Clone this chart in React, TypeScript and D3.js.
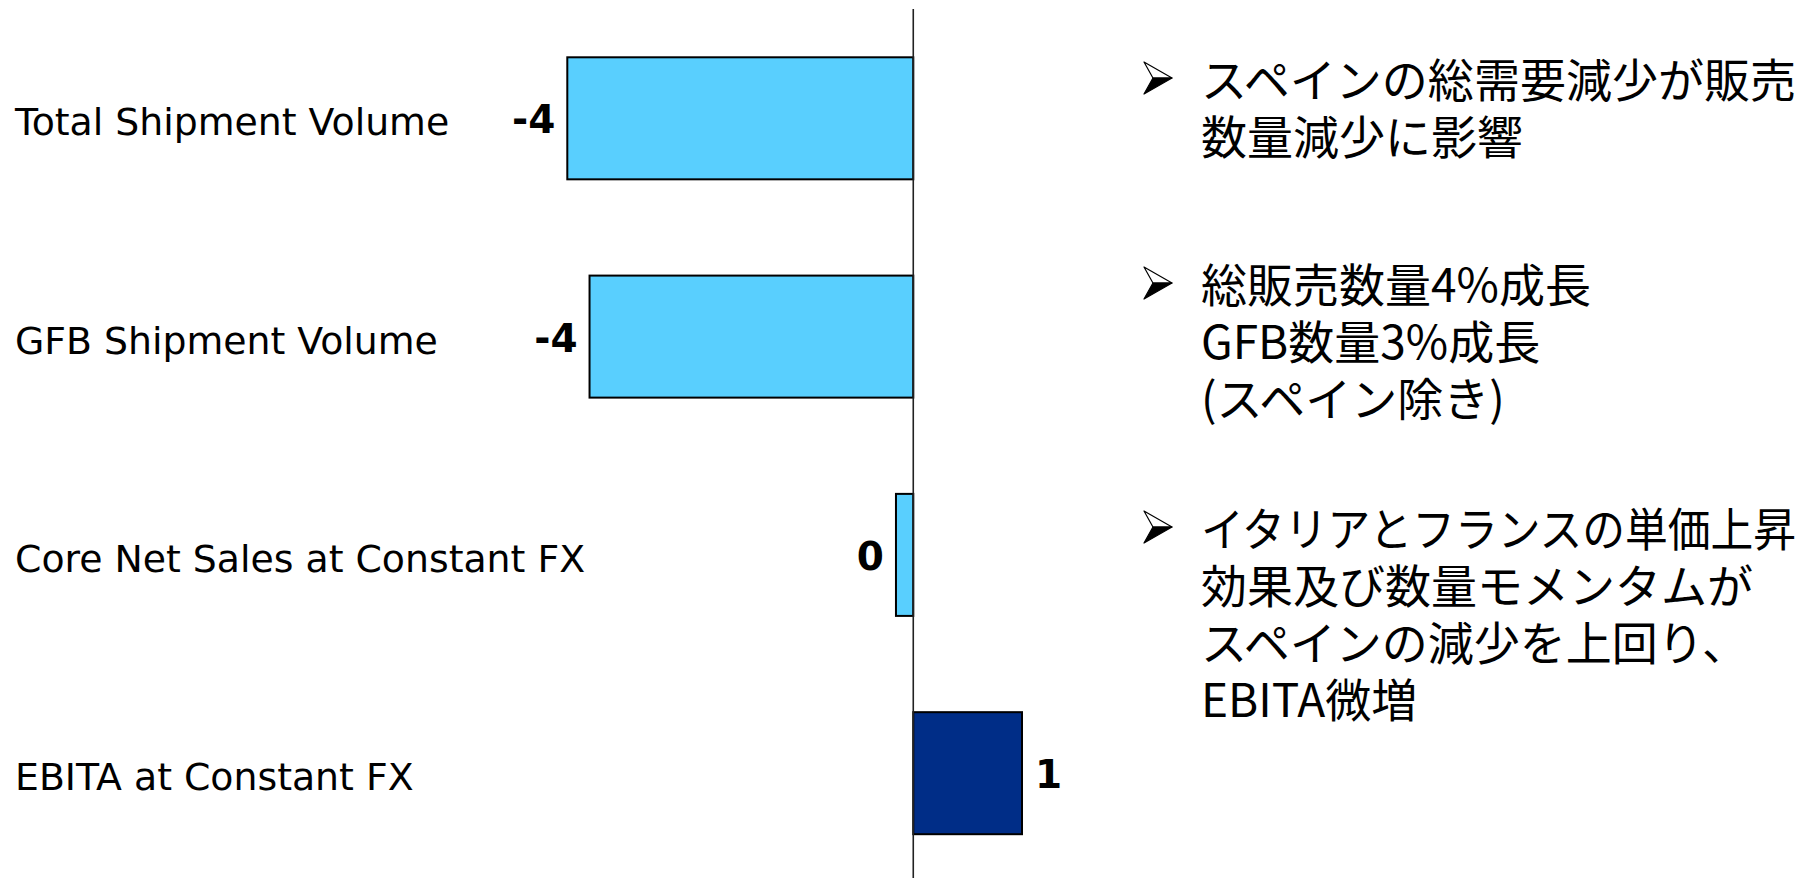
import React from "react";
import * as d3 from "d3";

const categories = [
  "Total Shipment Volume",
  "GFB Shipment Volume",
  "Core Net Sales at Constant FX",
  "EBITA at Constant FX",
];
const values = [-4.2, -3.93, -0.21, 1.32];
const valueLabels = ["-4", "-4", "0", "1"];
const barColors = ["#59CFFE", "#59CFFE", "#59CFFE", "#002D87"];

const bulletBlocks = [
  ["スペインの総需要減少が販売", "数量減少に影響"],
  ["総販売数量4%成長", "GFB数量3%成長", "(スペイン除き)"],
  ["イタリアとフランスの単価上昇", "効果及び数量モメンタムが", "スペインの減少を上回り、", "EBITA微増"],
];
const blockBaselines = [97, 302, 546];

const W = 1810;
const H = 878;
const CJK_SIZE = 46;
const TEXT_X = 1201;
const MAX_TEXT_W = 595;

export default function App() {
  const x = d3.scaleLinear().domain([-4.2, 1.32]).range([567.3, 1022]);
  const y = d3
    .scaleBand<string>()
    .domain(categories)
    .range([57.3, 834.2])
    .paddingInner(0.441)
    .paddingOuter(0);
  const x0 = x(0);
  const latin = "'DejaVu Sans', Verdana, sans-serif";
  const cjk = "'Noto Sans CJK JP', 'Noto Sans', sans-serif";
  const lineGap = 57;

  return (
    <div style={{ position: "absolute", left: 0, top: 0 }}>
      <svg width={W} height={H} style={{ display: "block", background: "#fff" }}>
        {categories.map((c, i) => {
          const v = values[i];
          const y0 = y(c)!;
          const bw = y.bandwidth();
          const cy = y0 + bw / 2;
          const left = Math.min(x(v), x0);
          const right = Math.max(x(v), x0);
          return (
            <g key={c}>
              <rect
                x={left}
                y={y0}
                width={right - left}
                height={bw}
                fill={barColors[i]}
                stroke="#000"
                strokeWidth={2}
              />
              <text
                x={15}
                y={cy + 17}
                fontFamily={latin}
                fontSize={37.8}
                fill="#000"
              >
                {c}
              </text>
              <text
                x={v < 0 ? left - 12 : right + 13}
                y={cy + 15}
                textAnchor={v < 0 ? "end" : "start"}
                fontFamily={latin}
                fontWeight="bold"
                fontSize={39}
                fill="#000"
              >
                {valueLabels[i]}
              </text>
            </g>
          );
        })}
        <line x1={x0} x2={x0} y1={9} y2={H} stroke="#222" strokeWidth={1.6} />

        {bulletBlocks.map((lines, bi) => {
          const base = blockBaselines[bi];
          const bx = 1144;
          const by = base - 35;
          const bw = 28;
          const bh = 32;
          return (
            <g key={bi}>
              <polygon
                points={`${bx},${by} ${bx + bw},${by + bh * 0.5} ${bx + bw * 0.32},${by + bh * 0.5}`}
                fill="#fff"
                stroke="#000"
                strokeWidth={1.2}
                strokeLinejoin="round"
              />
              <polygon
                points={`${bx + bw * 0.32},${by + bh * 0.5} ${bx + bw},${by + bh * 0.5} ${bx},${by + bh}`}
                fill="#000"
                stroke="#000"
                strokeWidth={1.2}
                strokeLinejoin="round"
              />
              <text fontFamily={cjk} fontSize={CJK_SIZE} fill="#000">
                {lines.map((ln, li) => {
                  const approxW = Array.from(ln).length * CJK_SIZE;
                  const squeeze = approxW > MAX_TEXT_W;
                  return (
                    <tspan
                      key={li}
                      x={TEXT_X}
                      y={base + li * lineGap}
                      {...(squeeze
                        ? { textLength: MAX_TEXT_W, lengthAdjust: "spacingAndGlyphs" }
                        : {})}
                    >
                      {ln}
                    </tspan>
                  );
                })}
              </text>
            </g>
          );
        })}
      </svg>
    </div>
  );
}
